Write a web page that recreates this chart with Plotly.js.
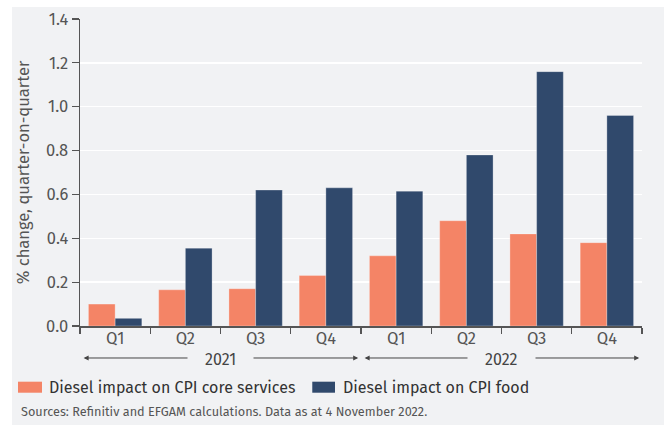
<!DOCTYPE html>
<html>
<head>
<meta charset="utf-8">
<script src="https://cdn.plot.ly/plotly-3.0.1.min.js"></script>
<style>
  html, body { margin: 0; padding: 0; background: #ffffff; width: 664px; height: 425px; overflow: hidden; }
  #chart { position: absolute; left: 12px; top: 7px; width: 652px; height: 418px; }
</style>
</head>
<body>
<div id="chart"></div>
<script>
// ---- Data ----
var quarters = ['Q1', 'Q2', 'Q3', 'Q4', 'Q1', 'Q2', 'Q3', 'Q4'];
var years = ['2021', '2021', '2021', '2021', '2022', '2022', '2022', '2022'];
var coreServices = [0.10, 0.165, 0.17, 0.23, 0.32, 0.48, 0.42, 0.38];
var food = [0.035, 0.355, 0.62, 0.63, 0.615, 0.78, 1.16, 0.96];
var seriesNames = ['Diesel impact on CPI core services', 'Diesel impact on CPI food'];
var seriesColors = ['#f48466', '#30496c'];
var yTicks = [0, 0.2, 0.4, 0.6, 0.8, 1.0, 1.2, 1.4];
var sourceText = 'Sources: Refinitiv and EFGAM calculations. Data as at 4 November 2022.';
var yTitle = '% change, quarter-on-quarter';

// ---- Build ----
var xIdx = quarters.map(function (_, i) { return i; });
var bg = '#f1f2f4';
var fontFam = '"Fira Sans", "Noto Sans", "DejaVu Sans", sans-serif';

var traces = [coreServices, food].map(function (vals, k) {
  return {
    type: 'bar', name: seriesNames[k], x: xIdx, y: vals,
    marker: { color: seriesColors[k], line: { color: 'rgba(255,255,255,0.35)', width: 0.8 } },
    hoverinfo: 'y', showlegend: false
  };
});

// Year groups
var groups = [];
years.forEach(function (yr, i) {
  var g = groups[groups.length - 1];
  if (!g || g.year !== yr) { groups.push({ year: yr, start: i, end: i }); }
  else { g.end = i; }
});

var annotations = [];
var shapes = [];
var yearY = -0.1042;
groups.forEach(function (g) {
  annotations.push({
    xref: 'x', yref: 'paper', axref: 'x', ayref: 'pixel',
    x: g.end + 0.5 - 0.04, y: yearY, ax: g.start - 0.5 + 0.03, ay: 0,
    text: '', showarrow: true, arrowside: 'end+start',
    arrowhead: 2, arrowsize: 1, arrowwidth: 1, arrowcolor: '#444', standoff: 0, startstandoff: 0
  });
  annotations.push({
    xref: 'x', yref: 'paper', x: (g.start + g.end) / 2, y: yearY - 0.005,
    xanchor: 'center', yanchor: 'middle', showarrow: false,
    text: '\u2003' + g.year + '\u2003', bgcolor: bg, borderpad: 1,
    font: { family: fontFam, size: 16, color: '#444' }
  });
});

// Custom legend (paper coords; plot area 562 x 307 px)
var legendItems = [
  { box: [-0.1103, -0.0676], textX: -0.0587 },
  { box: [0.4133, 0.4537], textX: 0.4639 }
];
legendItems.forEach(function (it, k) {
  shapes.push({
    type: 'rect', xref: 'paper', yref: 'paper',
    x0: it.box[0], x1: it.box[1], y0: -0.2173, y1: -0.1814,
    fillcolor: seriesColors[k], line: { width: 0 }
  });
  annotations.push({
    xref: 'paper', yref: 'paper', x: it.textX, y: -0.1994,
    xanchor: 'left', yanchor: 'middle', showarrow: false,
    text: seriesNames[k], font: { family: fontFam, size: 16, color: '#333' }
  });
});

annotations.push({
  xref: 'paper', yref: 'paper', x: -0.1085, y: -0.277,
  xanchor: 'left', yanchor: 'middle', showarrow: false,
  text: sourceText, font: { family: fontFam, size: 12.7, color: '#555' }
});

var layout = {
  width: 652, height: 418,
  paper_bgcolor: bg, plot_bgcolor: bg,
  margin: { l: 68, r: 22, t: 12, b: 99 },
  font: { family: fontFam, color: '#555' },
  barmode: 'group', bargap: 0.24, bargroupgap: 0,
  showlegend: false,
  xaxis: {
    range: [-0.5, 7.5], fixedrange: true, automargin: false,
    tickmode: 'array', tickvals: xIdx, ticktext: quarters,
    ticks: '', showgrid: false, zeroline: false, ticklabelstandoff: -3,
    showline: true, linecolor: '#555', linewidth: 1.5,
    tickfont: { family: fontFam, size: 16.5, color: '#555' },
    minor: {
      tickmode: 'array',
      tickvals: xIdx.map(function (i) { return i - 0.5; }).concat([xIdx.length - 0.5]),
      ticks: 'outside', ticklen: 6, tickcolor: '#555', tickwidth: 1.2, showgrid: false
    }
  },
  yaxis: {
    range: [0, 1.4], fixedrange: true, automargin: false,
    tickmode: 'array', tickvals: yTicks, tickformat: '.1f',
    ticks: 'outside', ticklen: 7, tickcolor: '#555', tickwidth: 1.2,
    showline: true, linecolor: '#555', linewidth: 1.5,
    showgrid: true, gridcolor: '#ffffff', gridwidth: 1.5, zeroline: false,
    tickfont: { family: fontFam, size: 16.5, color: '#555' },
    title: { text: yTitle, font: { family: fontFam, size: 16.5, color: '#555' }, standoff: 12 }
  },
  shapes: shapes,
  annotations: annotations
};

Plotly.newPlot('chart', traces, layout, { displayModeBar: false, staticPlot: true });
</script>
</body>
</html>
